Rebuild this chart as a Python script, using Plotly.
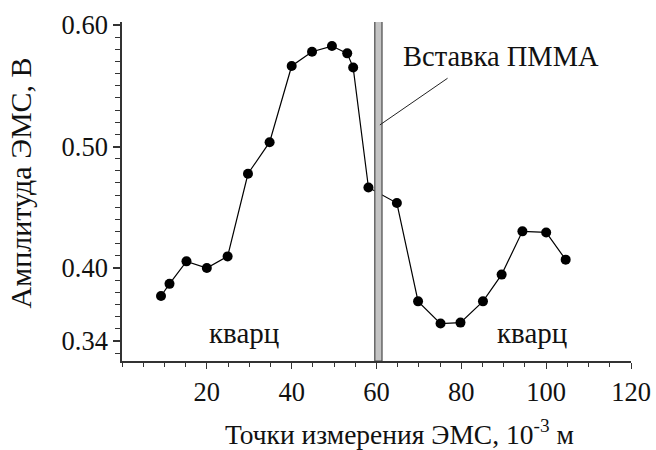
import plotly.graph_objects as go

# Measurement points along the sample (10^-3 m) and EMS amplitude (V)
positions = [9.2, 11.2, 15.2, 20.0, 24.9, 29.7, 34.8, 40.0, 44.8, 49.5, 53.1,
             54.5, 58.1, 64.8, 69.8, 75.1, 79.8, 85.1, 89.5, 94.4, 100.0, 104.6]
amplitudes = [0.377, 0.387, 0.4055, 0.400, 0.4096, 0.4776, 0.5036, 0.5663,
              0.578, 0.5827, 0.5767, 0.565, 0.4663, 0.4535, 0.3726, 0.3543,
              0.3551, 0.3726, 0.3946, 0.4302, 0.4293, 0.4069]

# PMMA insert location (10^-3 m)
insert_x = [59.6, 61.3]

y_ticks = [0.34, 0.40, 0.50, 0.60]
y_tick_text = ["0.34", "0.40", "0.50", "0.60"]
x_ticks = [20, 40, 60, 80, 100, 120]

Y_MIN, Y_MAX = 0.3235, 0.6025
FONT = "Liberation Serif"
TXT = "#111"

fig = go.Figure()

fig.add_trace(go.Scatter(
    x=positions, y=amplitudes, mode="lines+markers",
    line=dict(color="black", width=1.2),
    marker=dict(color="black", size=10),
    showlegend=False, cliponaxis=False,
))

# PMMA insert bar
fig.add_shape(type="rect", xref="x", yref="y",
              x0=insert_x[0], x1=insert_x[1], y0=Y_MIN, y1=0.6055,
              fillcolor="#c4c4c4", line=dict(color="#4a4a4a", width=1.2),
              layer="above")

# leader line for the insert label
fig.add_shape(type="line", xref="x", yref="y",
              x0=76.75, y0=0.5562, x1=60.8, y1=0.5178,
              line=dict(color="#222", width=1))


def label(text, x, y, xref="x", yref="y", size=28, **kw):
    fig.add_annotation(x=x, y=y, xref=xref, yref=yref, text=text,
                       showarrow=False, xanchor="center", yanchor="middle",
                       font=dict(family=FONT, size=size, color=TXT), **kw)


label("Вставка ПММА", 89.3, 0.5737, size=28.5)
label("кварц", 28.8, 0.3465, size=29)
label("кварц", 96.6, 0.3465, size=29)

# origin label, set off to the left of the axis corner
label("0", -5.8, 0, yref="paper", size=26.5, yshift=-23)

# axis titles
label("Точки измерения ЭМС, 10<sup>-3</sup> м", 0.5, 0, xref="paper", yref="paper",
      xshift=23, yshift=-71, size=27.5)
label("Амплитуда ЭМС, В", 0, 0.5, xref="paper", yref="paper",
      xshift=-102, yshift=8, textangle=-90, size=30)

fig.update_xaxes(
    range=[0, 120], tickmode="array", tickvals=x_ticks,
    ticks="outside", ticklen=6, tickwidth=1.2, tickcolor="#333",
    showline=True, linecolor="#333", linewidth=1.5,
    showgrid=False, zeroline=False,
    tickfont=dict(family=FONT, size=26.5, color=TXT),
    minor=dict(tickmode="linear", tick0=0, dtick=5, ticks="outside",
               ticklen=4, tickwidth=1.2, tickcolor="#333", showgrid=False),
)
fig.update_yaxes(
    range=[Y_MIN, Y_MAX], tickmode="array", tickvals=y_ticks, ticktext=y_tick_text,
    ticks="outside", ticklen=7, tickwidth=1.5, tickcolor="#333",
    showline=True, linecolor="#333", linewidth=1.5,
    showgrid=False, zeroline=False,
    tickfont=dict(family=FONT, size=26.5, color=TXT),
    minor=dict(tickmode="linear", tick0=0, dtick=0.01, ticks="outside",
               ticklen=5, tickwidth=1.2, tickcolor="#333", showgrid=False),
)

fig.update_layout(
    width=656, height=450,
    margin=dict(l=121.5, r=24.5, t=22, b=88.5, autoexpand=False),
    plot_bgcolor="white", paper_bgcolor="white",
)

fig.write_html("out.html")
